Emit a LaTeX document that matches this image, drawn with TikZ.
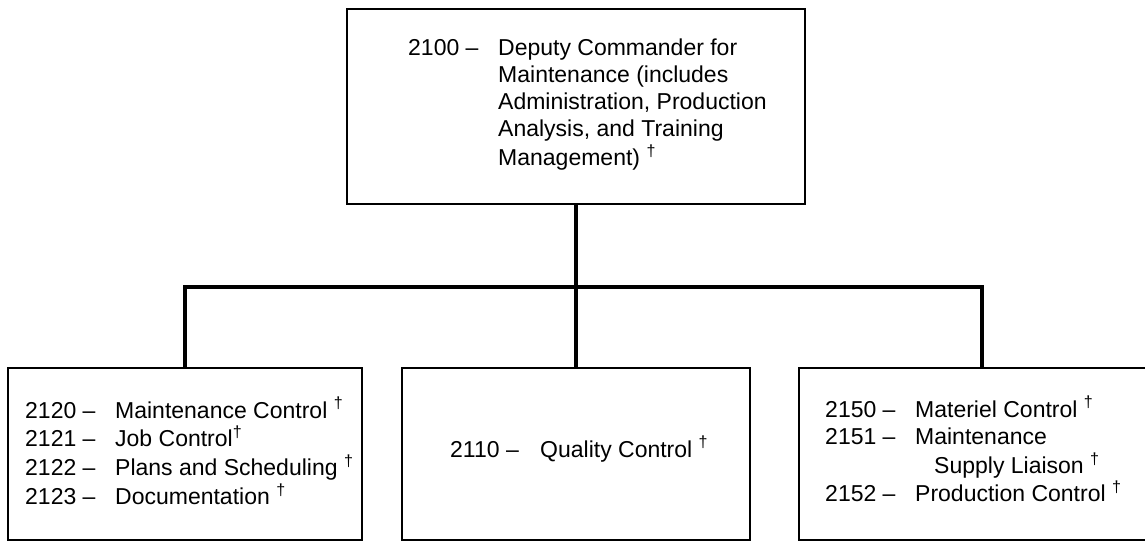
\documentclass[tikz,border=0pt]{standalone}
\usepackage{fontspec}
\setmainfont{Liberation Sans}
\newcommand\numlab[1]{\makebox[90pt][l]{#1 \textendash}}
\newcommand\nolab{\hspace*{90pt}}
\newcommand\dg{\textsuperscript{\textdagger}}
\begin{document}
\begin{tikzpicture}[x=1pt,y=-1pt,
  box/.style={draw, line width=2.4pt, inner sep=0pt},
  conn/.style={line width=4.2pt, line join=miter},
  txt/.style={inner sep=0pt, anchor=base west, font=\fontsize{23}{27.2}\selectfont}]
\useasboundingbox (0,0) rectangle (1145,541);
\clip (0,0) rectangle (1145,541);
\fill[white] (0,0) rectangle (1145,541);
% boxes
\node[box, minimum width=458pt, minimum height=195pt] (top) at (576,106.5) {};
\node[box, minimum width=354pt, minimum height=172pt] (left) at (185,454) {};
\node[box, minimum width=348pt, minimum height=172pt] (mid) at (576,454) {};
\node[box, minimum width=366pt, minimum height=172pt] (right) at (982,454) {};
\coordinate (bar) at (0,287);
% connectors
\draw[conn] (top.south) -- (mid.north);
\draw[conn] (left.north) -- (left.north |- bar) -- (right.north |- bar) -- (right.north);
% texts
\node[txt] (t0) at (408,55) {\begin{tabular}[t]{@{}l@{}}
\numlab{2100}Deputy Commander for\\
\nolab Maintenance (includes\\
\nolab Administration, Production\\
\nolab Analysis, and Training\\
\nolab Management) \dg
\end{tabular}};
\node[txt] (t1) at (25,418) {\begin{tabular}[t]{@{}l@{}}
\numlab{2120}Maintenance Control \dg\\
\numlab{2121}Job Control\dg\\
\numlab{2122}Plans and Scheduling \dg\\
\numlab{2123}Documentation \dg
\end{tabular}};
\node[txt] (t2) at (450,457) {\numlab{2110}Quality Control \dg};
\node[txt] (t3) at (825,417) {\begin{tabular}[t]{@{}l@{}}
\numlab{2150}Materiel Control \dg\\
\numlab{2151}Maintenance\\
\nolab\hspace*{19pt}Supply Liaison \dg\\
\numlab{2152}Production Control \dg
\end{tabular}};
\end{tikzpicture}
\end{document}
